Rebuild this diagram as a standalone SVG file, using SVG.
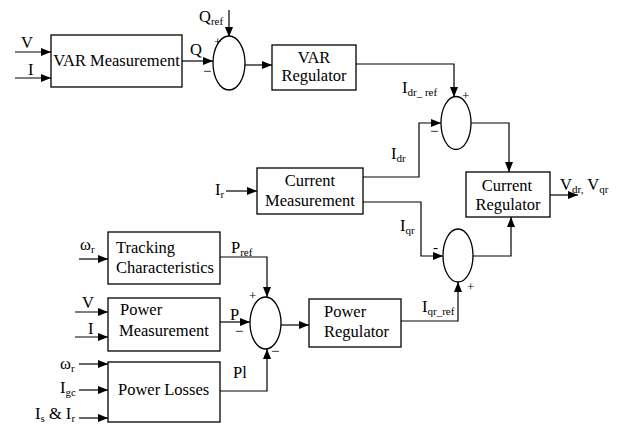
<svg xmlns="http://www.w3.org/2000/svg" width="617" height="426" viewBox="0 0 617 426">
<defs>
<marker id="ah" markerWidth="11" markerHeight="9" refX="10" refY="4" orient="auto" markerUnits="userSpaceOnUse"><path d="M0,0 L10,4 L0,8 z" fill="#000"/></marker>
<style>
.b{fill:#fff;stroke:#000;stroke-width:1.3}
.a{fill:none;stroke:#000;stroke-width:1.2;marker-end:url(#ah)}
.c{text-anchor:middle}
.s{font-size:11px}
text{font-family:"Liberation Serif",serif}
</style>
</defs>
<rect width="617" height="426" fill="#fff"/>
<g id="connectors">
<path class="a" d="M15,52 H51"/>
<path class="a" d="M15,78 H51"/>
<path class="a" d="M182,61 H213"/>
<path class="a" d="M229,10 V37"/>
<path class="a" d="M245,65 H272"/>
<path class="a" d="M356,64 H454 V97"/>
<path class="a" d="M363,177 H419 V123 H441"/>
<path class="a" d="M471,123 H509 V172"/>
<path class="a" d="M550,195 H578"/>
<path class="a" d="M226,191 H257"/>
<path class="a" d="M363,202 H421 V256 H443"/>
<path class="a" d="M473,256 H511 V217"/>
<path class="a" d="M401,321 H458 V282"/>
<path class="a" d="M79,259 H108"/>
<path class="a" d="M220,257 H267 V297"/>
<path class="a" d="M75,312 H108"/>
<path class="a" d="M75,337 H108"/>
<path class="a" d="M220,322 H250"/>
<path class="a" d="M281,325 H309"/>
<path class="a" d="M79,364 H108"/>
<path class="a" d="M79,390 H108"/>
<path class="a" d="M79,418 H108"/>
<path class="a" d="M220,391 H267 V349"/>
</g>
<g font-size="16.5" fill="#000">
<g id="var_meas"><rect class="b" x="51" y="35" width="131" height="52"/><text class="c" x="116.5" y="66">VAR Measurement</text></g>
<g id="sum1"><ellipse class="b" cx="229" cy="63" rx="16" ry="27"/></g>
<g id="var_reg"><rect class="b" x="272" y="45" width="84" height="45"/><text class="c" x="314" y="63">VAR</text><text class="c" x="314" y="81">Regulator</text></g>
<g id="sum2"><ellipse class="b" cx="456" cy="123" rx="15" ry="26.5"/></g>
<g id="cur_meas"><rect class="b" x="257" y="168" width="106" height="46"/><text class="c" x="310" y="186">Current</text><text class="c" x="310" y="206">Measurement</text></g>
<g id="cur_reg"><rect class="b" x="466" y="172" width="84" height="45"/><text class="c" x="507" y="191">Current</text><text class="c" x="508" y="210">Regulator</text></g>
<g id="sum3"><ellipse class="b" cx="458" cy="255.5" rx="15" ry="26.5"/></g>
<g id="track"><rect class="b" x="108" y="232" width="112" height="52"/><text x="116" y="253">Tracking</text><text x="116" y="273">Characteristics</text></g>
<g id="pow_meas"><rect class="b" x="108" y="298" width="112" height="53"/><text x="120" y="315">Power</text><text x="119" y="336">Measurement</text></g>
<g id="sum4"><ellipse class="b" cx="265.5" cy="323" rx="15.5" ry="26"/></g>
<g id="pow_reg"><rect class="b" x="309" y="299" width="92" height="48"/><text x="324" y="317">Power</text><text x="324" y="337">Regulator</text></g>
<g id="pow_loss"><rect class="b" x="108" y="362" width="112" height="60"/><text x="118" y="395">Power Losses</text></g>
<g id="labels">
<text x="21" y="48">V</text>
<text x="28" y="75">I</text>
<text x="190" y="55">Q</text>
<text x="199" y="22">Q<tspan class="s" dy="3">ref</tspan></text>
<text x="214" y="46" font-size="13">+</text>
<text x="203" y="76" font-size="15">−</text>
<text x="402" y="93">I<tspan class="s" dy="3">dr_ ref</tspan></text>
<text x="462" y="100" font-size="13">+</text>
<text x="430" y="136" font-size="15">−</text>
<text x="391" y="159">I<tspan class="s" dy="3">dr</tspan></text>
<text x="560" y="190">V<tspan class="s" dy="3">dr,</tspan><tspan dy="-3"> V</tspan><tspan class="s" dy="3">qr</tspan></text>
<text x="215" y="195">I<tspan class="s" dy="3">r</tspan></text>
<text x="400" y="231">I<tspan class="s" dy="3">qr</tspan></text>
<text x="433" y="252" font-size="15">-</text>
<text x="467" y="291" font-size="13">+</text>
<text x="422" y="312">I<tspan class="s" dy="3">qr_ref</tspan></text>
<text x="80" y="250">ω<tspan class="s" dy="3">r</tspan></text>
<text x="231" y="253">P<tspan class="s" dy="3">ref</tspan></text>
<text x="249" y="300" font-size="13">+</text>
<text x="82" y="308">V</text>
<text x="88" y="334">I</text>
<text x="230" y="320">P</text>
<text x="235" y="336" font-size="15">−</text>
<text x="271" y="356" font-size="15">−</text>
<text x="60" y="369">ω<tspan class="s" dy="3">r</tspan></text>
<text x="60" y="393">I<tspan class="s" dy="3">gc</tspan></text>
<text x="35" y="419">I<tspan class="s" dy="3">s</tspan><tspan dy="-3"> &amp; I</tspan><tspan class="s" dy="3">r</tspan></text>
<text x="233" y="378">Pl</text>
</g>
</g>
</svg>
